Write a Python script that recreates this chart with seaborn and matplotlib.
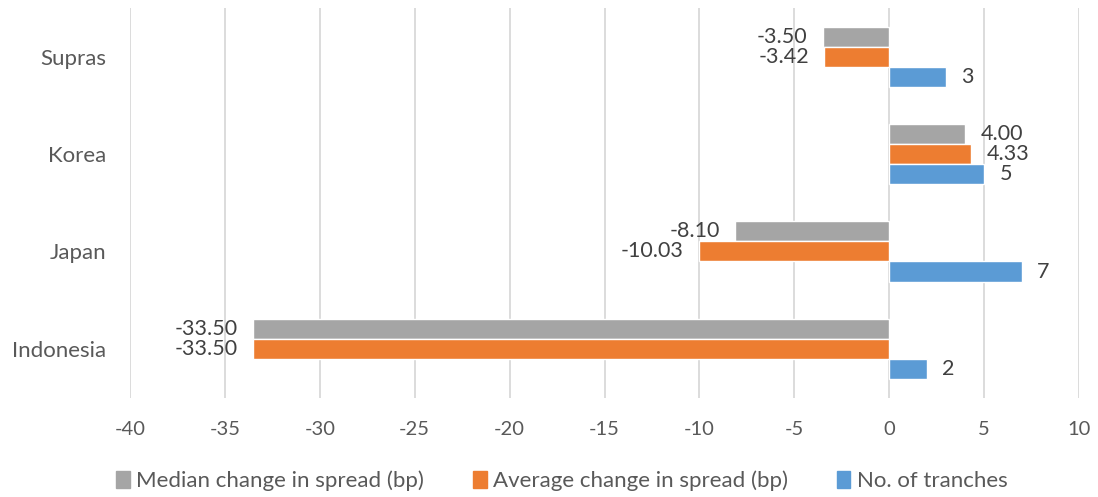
import pandas as pd
import matplotlib.pyplot as plt
import seaborn as sns

# Datos del gráfico
paises = ["Supras", "Korea", "Japan", "Indonesia"]
mediana = [-3.50, 4.00, -8.10, -33.50]
promedio = [-3.42, 4.33, -10.03, -33.50]
tramos = [3, 5, 7, 2]
series = ["Median change in spread (bp)", "Average change in spread (bp)", "No. of tranches"]
colores = ["#A5A5A5", "#ED7D31", "#5B9BD5"]
xticks = [-40, -35, -30, -25, -20, -15, -10, -5, 0, 5, 10]

df = pd.DataFrame({
    "pais": paises * 3,
    "serie": [series[0]] * 4 + [series[1]] * 4 + [series[2]] * 4,
    "valor": mediana + promedio + tramos,
})

sns.set_style("white")
plt.rcParams["font.family"] = ["Lato", "DejaVu Sans"]

fig = plt.figure(figsize=(10.98, 4.97), dpi=100)
ax = fig.add_axes([130 / 1098, 1 - 397.5 / 497, 949 / 1098, 389.5 / 497])

sns.barplot(data=df, x="valor", y="pais", hue="serie", order=paises,
            hue_order=series, palette=colores, orient="h", width=0.62,
            saturation=1, ax=ax, legend=False)

formatos = ["%.2f", "%.2f", "%d"]
for cont, fmt in zip(ax.containers, formatos):
    ax.bar_label(cont, fmt=fmt, padding=11, fontsize=15.5, color="#404040")

ax.set_xlim(-40, 10)
ax.set_ylim(3.5, -0.5)
ax.set_xticks(xticks)
ax.set_xticklabels([str(t) for t in xticks])
ax.grid(axis="x", color="#D9D9D9", linewidth=1.3)
ax.set_axisbelow(True)
for s in ax.spines.values():
    s.set_visible(False)
ax.set_xlabel("")
ax.set_ylabel("")
ax.tick_params(axis="x", labelsize=14.5, labelcolor="#595959", length=0, pad=17)
ax.tick_params(axis="y", labelsize=16, labelcolor="#595959", length=0, pad=17)

handles = [plt.Rectangle((0, 0), 1, 1, color=c) for c in colores]
fig.legend(handles, series, loc="center", bbox_to_anchor=(0.512, 0.032), ncol=3,
           frameon=False, fontsize=16, handlelength=0.6, handleheight=0.8,
           handletextpad=0.3, columnspacing=2.2, labelcolor="#595959")

fig.savefig("out.png", dpi=100)
